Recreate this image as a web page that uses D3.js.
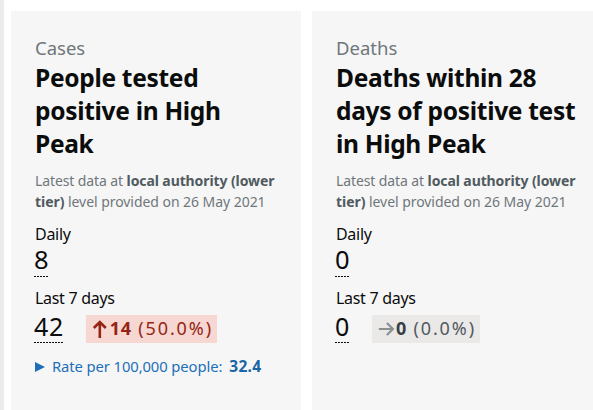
<!DOCTYPE html>
<html><head><meta charset="utf-8">
<script src="https://cdn.jsdelivr.net/npm/d3@7"></script>
<style>
html,body{margin:0;padding:0;background:#fff;}
svg{display:block;font-family:"Noto Sans",sans-serif;}
</style></head>
<body>
<svg id="c" width="593" height="410"></svg>
<script>
// Data
const categories = ["Cases", "Deaths"];
const titles = [["People tested", "positive in High", "Peak"], ["Deaths within 28", "days of positive test", "in High Peak"]];
const dailyValues = [8, 0];
const weeklyValues = [42, 0];
const weeklyChange = [14, 0];
const weeklyChangePct = ["50.0%", "0.0%"];
const rateLabels = ["Rate per 100,000 people:", null];
const rateValues = [32.4, null];
const updateDate = "26 May 2021";

const svg = d3.select("#c");
svg.append("rect").attr("x",0).attr("y",0).attr("width",4).attr("height",410).attr("fill","#ececec");

const x = d3.scaleBand().domain(categories).range([11, 602]).paddingInner(0.0365).paddingOuter(0);
const cw = x.bandwidth();

categories.forEach((cat, i) => {
  const g = svg.append("g").attr("transform", `translate(${x(cat)},11)`);
  g.append("rect").attr("width", cw).attr("height", 410).attr("fill", "#f6f6f6");
  const tx = 24;
  g.append("text").attr("x", tx).attr("y", 44).attr("fill", "#6f777b").attr("font-size", 18.5).text(cat);
  titles[i].forEach((t, k) => {
    g.append("text").attr("x", tx).attr("y", 76 + k*33).attr("fill", "#0b0c0c")
     .attr("font-size", 24.5).attr("font-weight", 700).attr("letter-spacing", -0.3).text(t);
  });
  const l1 = g.append("text").attr("x", tx).attr("y", 175).attr("fill", "#6f777b").attr("font-size", 14).attr("letter-spacing",-0.1);
  l1.append("tspan").text("Latest data at ");
  l1.append("tspan").attr("font-weight", 700).attr("fill","#505a5f").text("local authority (lower");
  const l2 = g.append("text").attr("x", tx).attr("y", 196).attr("fill", "#6f777b").attr("font-size", 14).attr("letter-spacing",-0.05);
  l2.append("tspan").attr("font-weight", 700).attr("fill","#505a5f").text("tier)");
  l2.append("tspan").text(" level provided on " + updateDate);

  g.append("text").attr("x", tx).attr("y", 229).attr("fill", "#0b0c0c").attr("font-size", 16).attr("letter-spacing",-0.3).text("Daily");
  const d = g.append("text").attr("x", tx-1).attr("y", 258).attr("fill", "#0b0c0c").attr("font-size", 25.5).text(dailyValues[i]);
  const dw = d.node().getComputedTextLength();
  g.append("line").attr("x1", tx-1).attr("x2", tx-1+dw).attr("y1", 265.5).attr("y2", 265.5)
   .attr("stroke", "#0b0c0c").attr("stroke-width", 1).attr("stroke-dasharray", "2,1");

  g.append("text").attr("x", tx).attr("y", 293).attr("fill", "#0b0c0c").attr("font-size", 16).attr("letter-spacing",-0.3).text("Last 7 days");
  const w = g.append("text").attr("x", tx-1).attr("y", 325).attr("fill", "#0b0c0c").attr("font-size", 25).attr("letter-spacing", 0.6).text(weeklyValues[i]);
  const ww = w.node().getComputedTextLength();
  g.append("line").attr("x1", tx-1).attr("x2", tx-1+ww).attr("y1", 331.5).attr("y2", 331.5)
   .attr("stroke", "#0b0c0c").attr("stroke-width", 1).attr("stroke-dasharray", "2,1");

  const up = weeklyChange[i] > 0;
  const bx = tx-1 + ww + 22;
  const badge = g.append("g").attr("transform", `translate(${bx},304)`);
  const br = badge.append("rect").attr("height", 28).attr("fill", up ? "#f6d7d2" : "#ebe9e7");
  const ac = up ? "#942514" : "#8a8f92";
  if (up) {
    badge.append("path").attr("d", "M14,23 V7 M8,13 L14,7 L20,13").attr("fill","none")
      .attr("stroke", ac).attr("stroke-width", 2.6);
  } else {
    badge.append("path").attr("d", "M7,14 H21 M15,8 L21,14 L15,20").attr("fill","none")
      .attr("stroke", ac).attr("stroke-width", 2.2);
  }
  const bt = badge.append("text").attr("x", 24).attr("y", 20).attr("font-size", 18).attr("letter-spacing", 1.9);
  bt.append("tspan").attr("fill", up ? "#942514" : "#383f43").attr("font-weight",700).attr("letter-spacing",0.6).text(weeklyChange[i]);
  bt.append("tspan").attr("fill", up ? "#942514" : "#505a5f").text(" (" + weeklyChangePct[i] + ")");
  br.attr("width", 24 + bt.node().getComputedTextLength() + 4);

  if (rateLabels[i]) {
    const rg = g.append("g").attr("transform", `translate(${tx},361)`);
    rg.append("path").attr("d", "M0,-10 L10,-5 L0,0 Z").attr("fill", "#1d70b8");
    const rt = rg.append("text").attr("x", 17).attr("y", 0).attr("font-size", 14.8).attr("fill", "#1d70b8").attr("letter-spacing",-0.1);
    rt.append("tspan").text(rateLabels[i]);
    rt.append("tspan").attr("dx", 7).attr("font-weight", 700).attr("font-size", 15.5).attr("fill","#1a65a6").attr("letter-spacing",0.3).text(rateValues[i]);
  }
});
</script>
</body></html>
